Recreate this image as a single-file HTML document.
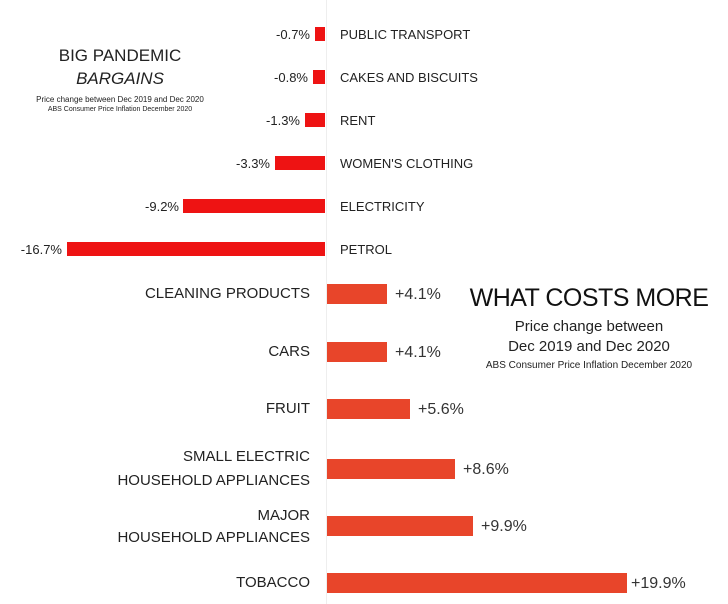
<!DOCTYPE html>
<html><head><meta charset="utf-8"><style>
body{margin:0;width:728px;height:604px;background:#fff;position:relative;overflow:hidden;font-family:"Liberation Sans",sans-serif;color:#222}
div{position:absolute;white-space:nowrap}
.b1{background:#ee1313;height:14px}
.b2{background:#e8452a;height:20px}
.t{font-size:13px;line-height:14px}
.l2{font-size:15px;line-height:18px;text-align:right;right:418px}
.v2{font-size:16px;line-height:20px;color:#333}
.c{text-align:center}
</style></head><body>
<div style="left:326px;top:0;width:1px;height:604px;background:#eee"></div>

<div class="c" style="left:40px;top:46px;width:160px;font-size:17px">BIG PANDEMIC</div>
<div class="c" style="left:40px;top:69px;width:160px;font-size:17px;font-style:italic">BARGAINS</div>
<div class="c" style="left:20px;top:95px;width:200px;font-size:8px">Price change between Dec 2019 and Dec 2020</div>
<div class="c" style="left:20px;top:106px;width:200px;font-size:7px">ABS Consumer Price Inflation December 2020</div>

<div class="b1" style="left:315px;top:27px;width:10px"></div><div class="t" style="right:418px;top:28px">-0.7%</div><div class="t" style="left:340px;top:28px">PUBLIC TRANSPORT</div>
<div class="b1" style="left:313px;top:70px;width:12px"></div><div class="t" style="right:420px;top:71px">-0.8%</div><div class="t" style="left:340px;top:71px">CAKES AND BISCUITS</div>
<div class="b1" style="left:305px;top:113px;width:20px"></div><div class="t" style="right:428px;top:114px">-1.3%</div><div class="t" style="left:340px;top:114px">RENT</div>
<div class="b1" style="left:275px;top:156px;width:50px"></div><div class="t" style="right:458px;top:157px">-3.3%</div><div class="t" style="left:340px;top:157px">WOMEN'S CLOTHING</div>
<div class="b1" style="left:183px;top:199px;width:142px"></div><div class="t" style="right:549px;top:200px">-9.2%</div><div class="t" style="left:340px;top:200px">ELECTRICITY</div>
<div class="b1" style="left:67px;top:242px;width:258px"></div><div class="t" style="right:666px;top:243px">-16.7%</div><div class="t" style="left:340px;top:243px">PETROL</div>

<div class="b2" style="left:327px;top:284px;width:60px"></div><div class="l2" style="top:285px">CLEANING PRODUCTS</div><div class="v2" style="left:395px;top:285px">+4.1%</div>
<div class="b2" style="left:327px;top:342px;width:60px"></div><div class="l2" style="top:343px">CARS</div><div class="v2" style="left:395px;top:343px">+4.1%</div>
<div class="b2" style="left:327px;top:399px;width:83px"></div><div class="l2" style="top:400px">FRUIT</div><div class="v2" style="left:418px;top:400px">+5.6%</div>
<div class="b2" style="left:327px;top:459px;width:128px"></div><div class="l2" style="top:445px;line-height:24px">SMALL ELECTRIC<br>HOUSEHOLD APPLIANCES</div><div class="v2" style="left:463px;top:460px">+8.6%</div>
<div class="b2" style="left:327px;top:516px;width:146px"></div><div class="l2" style="top:505px;line-height:22px">MAJOR<br>HOUSEHOLD APPLIANCES</div><div class="v2" style="left:481px;top:517px">+9.9%</div>
<div class="b2" style="left:327px;top:573px;width:300px"></div><div class="l2" style="top:574px">TOBACCO</div><div class="v2" style="left:631px;top:574px">+19.9%</div>

<div class="c" style="left:458px;top:284px;width:262px;font-size:25px;letter-spacing:-0.5px;color:#111">WHAT COSTS MORE</div>
<div class="c" style="left:458px;top:318px;width:262px;font-size:15px">Price change between</div>
<div class="c" style="left:458px;top:338px;width:262px;font-size:15px">Dec 2019 and Dec 2020</div>
<div class="c" style="left:458px;top:360px;width:262px;font-size:10px">ABS Consumer Price Inflation December 2020</div>
</body></html>
